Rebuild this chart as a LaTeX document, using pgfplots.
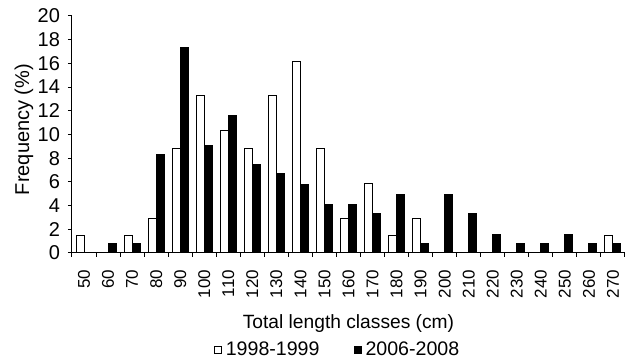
\documentclass[border=0pt]{standalone}
\usepackage{pgfplots}
\pgfplotsset{compat=1.18}
\usepackage{fontspec}
\setmainfont{Liberation Sans}
\begin{document}
\begin{tikzpicture}
\begin{axis}[
  scale only axis,
  width=276.5pt, height=118.5pt,
  xmin=-0.5, xmax=22.5, ymin=0, ymax=20,
  axis x line*=bottom, axis y line*=left,
  axis line style={line width=0.5pt},
  ytick={0,2,...,20},
  xtick={0,...,22},
  xticklabels={50,60,70,80,90,100,110,120,130,140,150,160,170,180,190,200,210,220,230,240,250,260,270},
  minor xtick={-0.5,0.5,...,22.5},
  major x tick style={draw=none},
  minor tick length=2pt,
  major tick length=2pt,
  tick align=outside,
  tick style={black, line width=0.5pt},
  /pgf/number format/assume math mode=true,
  x tick label style={font=\fontsize{8.5}{10}\selectfont, rotate=90, anchor=east, xshift=-3pt},
  y tick label style={font=\fontsize{10}{12}\selectfont, xshift=-0.5pt},
  xlabel={Total length classes (cm)},
  xlabel style={at={(rel axis cs:0.5,0)}, anchor=center, yshift=-35.5pt, font=\fontsize{9.6}{11}\selectfont},
  ylabel={Frequency (\%)},
  ylabel style={at={(rel axis cs:0,0.5)}, anchor=center, yshift=24pt, xshift=2.5pt, font=\fontsize{10}{12}\selectfont},
  ybar=0pt, bar width=0.333,
  legend columns=2,
  legend style={at={(rel axis cs:0.482,0)}, anchor=center, yshift=-48.5pt, draw=none, fill=none,
    font=\fontsize{9.8}{11}\selectfont, /tikz/every even column/.append style={column sep=15pt},
    inner sep=0pt},
  legend image code/.code={\draw[#1,line width=0.5pt] (0pt,-1.75pt) rectangle (3.5pt,1.75pt);},
]
\addplot[draw=black, fill=white, line width=0.5pt] coordinates {
(0,1.5) (2,1.5) (3,2.9) (4,8.8) (5,13.3) (6,10.3) (7,8.8) (8,13.3) (9,16.2) (10,8.8) (11,2.9) (12,5.9) (13,1.5) (14,2.9) (22,1.5)};
\addplot[draw=black, fill=black, line width=0.5pt] coordinates {
(1,0.8) (2,0.8) (3,8.3) (4,17.3) (5,9.1) (6,11.6) (7,7.5) (8,6.7) (9,5.8) (10,4.1) (11,4.1) (12,3.3) (13,4.9) (14,0.8) (15,4.9) (16,3.3) (17,1.6) (18,0.8) (19,0.8) (20,1.6) (21,0.8) (22,0.8)};
\legend{1998-1999, 2006-2008}
\coordinate (o) at (rel axis cs:0,0);
\end{axis}
\pgfresetboundingbox
\path ([shift={(-36pt,-54.5pt)}]o) rectangle ([shift={(278.5pt,126.5pt)}]o);
\end{tikzpicture}
\end{document}
